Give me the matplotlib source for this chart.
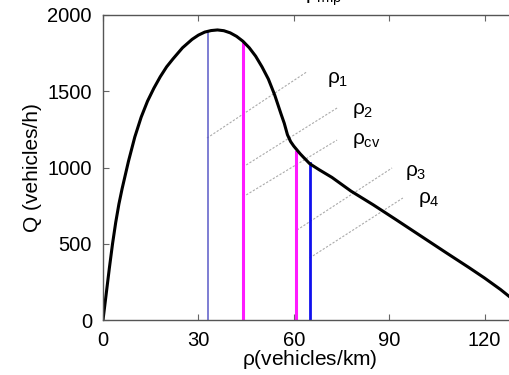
import matplotlib as mpl
mpl.use('Agg')
import matplotlib.pyplot as plt

plt.rcParams['font.family'] = ['Liberation Sans', 'DejaVu Sans']
plt.rcParams['mathtext.fontset'] = 'custom'
plt.rcParams['mathtext.rm'] = 'Liberation Sans'
plt.rcParams['mathtext.it'] = 'Liberation Sans'

# fundamental diagram
rho = [0, 1, 2, 3, 4, 5, 6, 8, 10, 12, 14, 16, 18, 20, 22, 25, 28, 30, 32, 34,
       36, 38, 40, 42, 44, 46, 48, 50, 52, 54, 56, 57, 58, 59, 60, 61, 62, 63,
       65, 68, 72, 78, 85, 92, 100, 108, 115, 120, 125, 128, 132, 135]
flow = [0, 170, 340, 500, 640, 760, 860, 1040, 1200, 1330, 1435, 1520, 1595,
        1660, 1712, 1785, 1840, 1868, 1888, 1898, 1902, 1897, 1883, 1860, 1828,
        1785, 1730, 1660, 1580, 1475, 1350, 1290, 1215, 1170, 1140, 1115, 1090,
        1068, 1025, 985, 935, 845, 755, 660, 550, 440, 345, 275, 200, 150, 95, 60]

# vertical markers
vline_rho = [33, 44, 60.7, 65]
vline_top = [1890, 1816, 1104, 1030]
vline_col = ['#5a5ac8', '#ff1aff', '#ff1aff', '#1010ee']
vline_lw = [1.1, 2.2, 2.2, 2.0]

# thin grey guide lines and their labels
guide_names = [r'$\rho_1$', r'$\rho_2$', r'$\rho_{cv}$', r'$\rho_3$', r'$\rho_4$']
guide_x0 = [32.7, 44, 44, 61, 65]
guide_y0 = [1193, 1003, 807, 590, 407]
guide_x1 = [64, 73.6, 73.6, 90.9, 94.3]
guide_y1 = [1626, 1390, 1180, 997, 800]
label_x = [70.4, 78.3, 78.3, 95, 99]
label_y = [1574, 1377, 1180, 970, 787]

fig = plt.figure(figsize=(5.1, 3.75), dpi=100)
ax = fig.add_axes([103 / 510, 55 / 375, 477 / 510, 305 / 375])

for x0, y0, x1, y1 in zip(guide_x0, guide_y0, guide_x1, guide_y1):
    ax.plot([x0, x1], [y0, y1], color='#aaaaaa', lw=0.8, ls=(0, (2, 1.5)))
for name, lx, ly in zip(guide_names, label_x, label_y):
    ax.text(lx, ly, name, fontsize=15, va='center', ha='left')

for x, top, c, lw in zip(vline_rho, vline_top, vline_col, vline_lw):
    ax.plot([x, x], [0, top], color=c, lw=lw)

ax.plot(rho, flow, color='black', lw=2.2, solid_joinstyle='round')

ax.set_xlim(0, 150)
ax.set_ylim(0, 2000)
ax.set_xticks([0, 30, 60, 90, 120])
ax.set_yticks([0, 500, 1000, 1500, 2000])
ax.tick_params(direction='in', length=4, width=0.8, color='#666666',
               labelsize=14.5, top=True, right=True, pad=8)
for s in ax.spines.values():
    s.set_color('#555555')
    s.set_linewidth(1.0)
ax.set_xlabel(r'$\mathregular{\rho}$(vehicles/km)', fontsize=15)
ax.xaxis.set_label_coords(0.434, -0.093)
ax.set_ylabel('Q (vehicles/h)', fontsize=15, labelpad=4)

fig.text(305 / 510, 1.0, r'$\rho_{mip}$', fontsize=15, va='baseline')

fig.savefig('out.png', dpi=100)
